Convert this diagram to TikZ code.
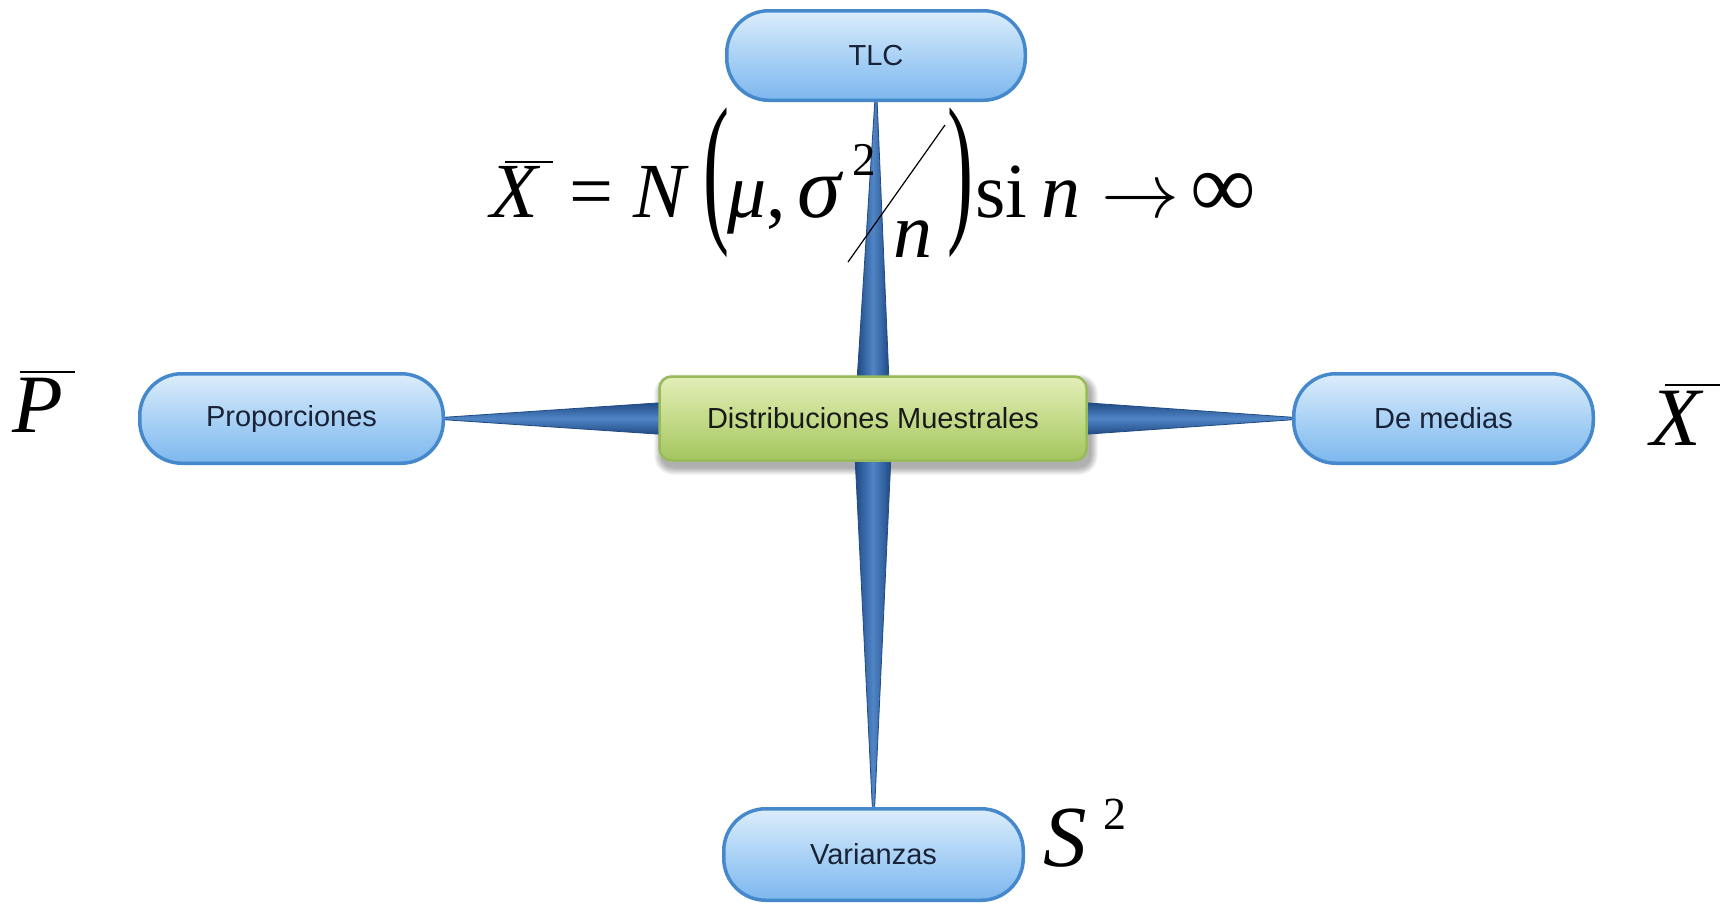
\documentclass[tikz,border=0pt]{standalone}
\usepackage{fontspec}
\setmainfont{Liberation Serif}
\newfontfamily\boxfont{Liberation Sans}
\usetikzlibrary{calc}
\pgfdeclarelayer{paper}
\pgfdeclarelayer{shadow}
\pgfdeclarelayer{background}
\pgfsetlayers{paper,shadow,background,main}
\definecolor{pillA}{HTML}{DCEDFB}
\definecolor{pillB}{HTML}{AAD2F5}
\definecolor{pillC}{HTML}{7DB7EE}
\definecolor{pillLine}{HTML}{4589CC}
\definecolor{grA}{HTML}{E2EEB8}
\definecolor{grB}{HTML}{C4DB8A}
\definecolor{grC}{HTML}{A4C55E}
\definecolor{grLine}{HTML}{98BA5A}
\definecolor{wedgeA}{HTML}{1F4A84}
\definecolor{wedgeB}{HTML}{5085C6}
\definecolor{txtDark}{HTML}{1A2238}
\tikzset{
  pill/.style={rounded corners=42pt, draw=pillLine, line width=3.5pt,
    top color=pillA, bottom color=pillC, middle color=pillB,
    minimum height=89.5pt, inner sep=0pt,
    font=\boxfont\fontsize{29}{34}\selectfont, text=txtDark},
  hub/.style={rounded corners=12pt, draw=grLine, line width=2.5pt,
    top color=grA, bottom color=grC, middle color=grB,
    minimum width=427pt, minimum height=84pt, inner sep=0pt,
    font=\boxfont\fontsize{29}{34}\selectfont, text=black!90},
  wedge/.style={draw=wedgeA, line width=0.8pt, line join=round},
  mathbig/.style={font=\fontsize{78}{80}\selectfont, inner sep=0pt, anchor=base west},
  paren/.style={font=\fontsize{78}{80}\selectfont, inner sep=0pt},
  lbl/.style={inner sep=0pt, anchor=base west},
  bar/.style={line width=2pt},
}
\begin{document}
\begin{tikzpicture}[x=1pt,y=-1pt]
\useasboundingbox (0,0) rectangle (1728,903);
\begin{pgfonlayer}{paper}
\fill[white] (0,0) rectangle (1728,903);
\end{pgfonlayer}

% boxes
\node[pill, minimum width=298.5pt] (tlc) at (876,55.5) {TLC};
\node[hub] (hub) at (873,418.5) {Distribuciones Muestrales};
\node[pill, minimum width=303.5pt] (prop) at (291.5,418.5) {Proporciones};
\node[pill, minimum width=299.5pt] (med) at (1443.5,418.5) {De medias};
\node[pill, minimum width=299.5pt, minimum height=91.5pt] (var) at (873.5,854.5) {Varianzas};

% soft shadow of the central box
\begin{pgfonlayer}{shadow}
\foreach \i in {0,1,...,7}{
  \fill[black, opacity=0.045, rounded corners={12pt+\i pt}]
    ($(hub.south west)+(3-\i,6+\i)$) rectangle ($(hub.north east)+(3+\i,6-\i)$);
}
\end{pgfonlayer}

% tapered connectors
\begin{pgfonlayer}{background}
\shadedraw[wedge, left color=wedgeA, right color=wedgeA, middle color=wedgeB]
  ($(tlc.south)+(-1,-4)$) -- ($(tlc.south)+(1,-4)$) -- ($(hub.north)+(16,6)$) -- ($(hub.north)+(-16,6)$) -- cycle;
\shadedraw[wedge, left color=wedgeA, right color=wedgeA, middle color=wedgeB]
  ($(hub.south)+(-18,-6)$) -- ($(hub.south)+(18,-6)$) -- ($(var.north)+(1,4)$) -- ($(var.north)+(-1,4)$) -- cycle;
\shadedraw[wedge, top color=wedgeA, bottom color=wedgeA, middle color=wedgeB]
  ($(prop.east)+(-4,-1)$) -- ($(hub.west)+(6,-16)$) -- ($(hub.west)+(6,16)$) -- ($(prop.east)+(-4,1)$) -- cycle;
\shadedraw[wedge, top color=wedgeA, bottom color=wedgeA, middle color=wedgeB]
  ($(med.west)+(4,-1)$) -- ($(hub.east)+(-6,-16)$) -- ($(hub.east)+(-6,16)$) -- ($(med.west)+(4,1)$) -- cycle;
\end{pgfonlayer}

% formula
\node[mathbig] (fX) at (490,217) {\itshape X};
\draw[bar] (505,162) -- (553,162);
\node[mathbig] (fEq) at (569,217) {=};
\node[mathbig] (fN) at (633,217) {\itshape N};
\node[paren] (fLp) at (716,182.5) {\scalebox{1}[2.12]{(}};
\node[mathbig] (fMu) at (727,217) {\itshape μ};
\node[mathbig] (fCm) at (766,217) {,};
\node[lbl, font=\fontsize{88}{90}\selectfont\itshape] (fSig) at (797,217) {σ};
\node[lbl, font=\fontsize{47}{50}\selectfont] (fTwo) at (852,175) {2};
\draw[line width=1.2pt] (848,262) -- (945,125);
\node[mathbig] (fDen) at (893,257) {\itshape n};
\node[paren] (fRp) at (960,182.5) {\scalebox{1}[2.12]{)}};
\node[mathbig] (fSi) at (975,217) {si};
\node[mathbig] (fN2) at (1041,217) {\itshape n};
\node[lbl, font=\fontsize{10}{12}\selectfont] (fArr) at (1101,217) {\scalebox{7.8}{$\rightarrow$}};
\node[lbl, font=\fontsize{92}{94}\selectfont] (fInf) at (1190,217) {∞};

% side labels
\node[lbl, font=\fontsize{83}{85}\selectfont\itshape] (lP) at (12,432) {P};
\draw[bar] (20,372) -- (75,372);
\node[lbl, font=\fontsize{83}{85}\selectfont\itshape] (lX) at (1650,445) {X};
\draw[bar] (1665,385) -- (1720,385);
\node[lbl, font=\fontsize{87}{90}\selectfont\itshape] (lS) at (1043,866) {S};
\node[lbl, font=\fontsize{46}{48}\selectfont] (lTwo) at (1103,829) {2};
\end{tikzpicture}
\end{document}
